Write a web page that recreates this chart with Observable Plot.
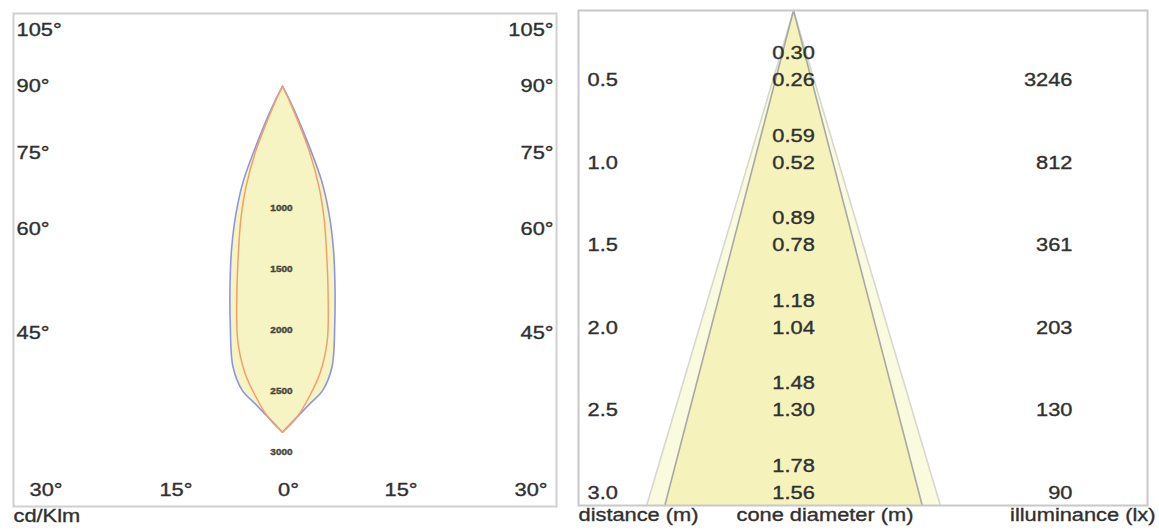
<!DOCTYPE html>
<html><head><meta charset="utf-8">
<script src="https://cdn.jsdelivr.net/npm/d3@7"></script>
<script src="https://cdn.jsdelivr.net/npm/@observablehq/plot@0.6"></script>
<style>
html,body{margin:0;padding:0;background:#fff;}
#wrap{display:flex;width:1159px;height:531px;overflow:hidden;}
svg{display:block}
</style></head><body><div id="wrap"></div>
<script>
// ---------- polar (luminous intensity) data, cd/klm ----------
const gammaAngles = [0, 2.5, 5, 7.5, 10, 12.5, 15, 17.5, 20, 22.5, 25, 27.5, 30];
const c0Values   = [2834, 2713, 2608, 2515, 2335, 1980, 1660, 1385, 1120, 840, 375, 120, 0];
const c90Values  = [2834, 2714, 2547, 2367, 2114, 1726, 1392, 1133, 873, 574, 180, 40, 0];
const intensityTicks = [1000, 1500, 2000, 2500, 3000];
const sideAngles = [105, 90, 75, 60, 45];
const bottomAngles = [-30, -15, 0, 15, 30];
const unitLabel = ["cd/Klm"];

// ---------- cone diagram data ----------
const distances = [0.5, 1.0, 1.5, 2.0, 2.5, 3.0];
const outerDiameters = [0.30, 0.59, 0.89, 1.18, 1.48, 1.78];
const innerDiameters = [0.26, 0.52, 0.78, 1.04, 1.30, 1.56];
const illuminance = [3246, 812, 361, 203, 130, 90];
const footerLabels = ["distance (m)", "cone diameter (m)", "illuminance (lx)"];

const FONT = "Liberation Sans, Arial, Helvetica, sans-serif";
const TXT = "#303030";
const LOBE_FILL = "#f6f4c3";
const rad = d => d * Math.PI / 180;

// two half-curves (left / right), each running from the apex down to the peak
function lobeHalves(values) {
  const pts = [];
  for (const side of [-1, 1])
    for (let i = gammaAngles.length - 1; i >= 0; i--)
      pts.push({side, x: side * values[i] * Math.sin(rad(gammaAngles[i])), y: values[i] * Math.cos(rad(gammaAngles[i]))});
  return pts;
}
const c0Lobe = lobeHalves(c0Values);
const c90Lobe = lobeHalves(c90Values);

// ---------- left: polar diagram ----------
const leftX = [-2205, 2246], leftY = [-598, 3443];
const labelReach = 2025, labelTop = -460;
const sideData = sideAngles.map(a => ({a, y: Math.max(labelTop, labelReach / Math.tan(rad(a)))}));
const bottomData = bottomAngles.map(a => ({a, x: leftY[1] * Math.tan(rad(a))}));

const left = Plot.plot({
  width: 570, height: 531,
  marginLeft: 13, marginRight: 14, marginTop: 13, marginBottom: 25,
  x: {domain: leftX, axis: null},
  y: {domain: leftY, reverse: true, axis: null},
  style: {fontFamily: FONT, background: "transparent", overflow: "visible"},
  marks: [
    Plot.frame({stroke: "#d0d0d0", strokeWidth: 2}),
    Plot.line(c0Lobe, {x: "x", y: "y", z: "side", curve: "catmull-rom", fill: LOBE_FILL, stroke: "none"}),
    Plot.ruleX([0], {y1: 0, y2: c0Values[0], stroke: LOBE_FILL, strokeWidth: 2}),
    Plot.line(c0Lobe, {x: "x", y: "y", z: "side", curve: "catmull-rom", stroke: "#8e95e4", strokeWidth: 1.6}),
    Plot.line(c90Lobe, {x: "x", y: "y", z: "side", curve: "catmull-rom", stroke: "#f2a06a", strokeWidth: 1.5}),
    Plot.text(intensityTicks, {x: () => 0, y: d => d, text: d => String(d), fontSize: 8.5, fill: "#56564a", fontWeight: "bold", dx: -1}),
    Plot.text(sideData, {y: "y", text: d => d.a + "°", frameAnchor: "left", textAnchor: "start", dx: 3, fontSize: 18.5, fill: TXT}),
    Plot.text(sideData, {y: "y", text: d => d.a + "°", frameAnchor: "right", textAnchor: "end", dx: -3, fontSize: 18.5, fill: TXT}),
    Plot.text(bottomData, {x: "x", text: d => Math.abs(d.a) + "°", frameAnchor: "bottom", dy: -11, dx: 6, fontSize: 18.5, fill: TXT}),
    Plot.text(unitLabel, {text: d => d, frameAnchor: "bottom-left", textAnchor: "start", dy: 15, fontSize: 18.5, fill: TXT})
  ]
});

// ---------- right: cone diagram ----------
const last = distances.length - 1;
const triangle = diam => [
  {x: -diam[last] / 2, y: distances[last]},
  {x: 0, y: 0},
  {x: diam[last] / 2, y: distances[last]}
];
const rows = distances.map((d, i) => ({d, outer: outerDiameters[i], inner: innerDiameters[i], lux: illuminance[i]}));

const right = Plot.plot({
  width: 589, height: 531,
  marginLeft: 8, marginRight: 12, marginTop: 10, marginBottom: 26,
  x: {domain: [-1.303, 2.145], axis: null},
  y: {domain: [0, 3], reverse: true, axis: null},
  style: {fontFamily: FONT, background: "transparent", overflow: "visible"},
  marks: [
    Plot.line(triangle(outerDiameters), {x: "x", y: "y", fill: "#fafadf", stroke: "#d8d8ce", strokeWidth: 1.6}),
    Plot.line(triangle(innerDiameters), {x: "x", y: "y", fill: "#f5f3bb", stroke: "#a9a9a4", strokeWidth: 1.6}),
    Plot.frame({stroke: "#c8c8c8", strokeWidth: 2}),
    Plot.text(rows, {y: "d", text: d => d.d.toFixed(1), frameAnchor: "left", textAnchor: "start", dx: 9, dy: -12.6, fontSize: 18.5, fill: TXT}),
    Plot.text(rows, {x: () => 0, y: "d", text: d => d.outer.toFixed(2), dy: -39.5, fontSize: 18.5, fill: TXT}),
    Plot.text(rows, {x: () => 0, y: "d", text: d => d.inner.toFixed(2), dy: -12.6, fontSize: 18.5, fill: TXT}),
    Plot.text(rows, {y: "d", text: d => String(d.lux), frameAnchor: "right", dx: -75, dy: -12.6, fontSize: 18.5, fill: TXT}),
    Plot.text([footerLabels[0]], {text: d => d, frameAnchor: "bottom-left", textAnchor: "start", dy: 15, fontSize: 18.5, fill: TXT}),
    Plot.text([footerLabels[1]], {text: d => d, frameAnchor: "bottom", dx: -38, dy: 15, fontSize: 18.5, fill: TXT}),
    Plot.text([footerLabels[2]], {text: d => d, frameAnchor: "bottom-right", textAnchor: "end", dx: 8, dy: 15, fontSize: 18.5, fill: TXT})
  ]
});

const wrap = document.getElementById("wrap");
wrap.appendChild(left);
wrap.appendChild(right);

// the reference lettering is horizontally stretched and slightly heavy
wrap.querySelectorAll("text").forEach(t => {
  const tr = t.getAttribute("transform") || "";
  t.setAttribute("transform", tr + " scale(1.18,1)");
  t.style.stroke = t.getAttribute("fill") || TXT;
  t.style.strokeWidth = "0.35px";
});
</script>
</body></html>
